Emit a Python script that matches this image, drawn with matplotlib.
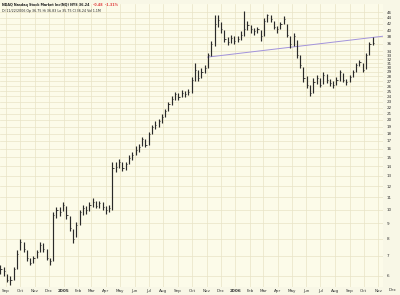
import matplotlib
matplotlib.use("Agg")
import matplotlib.pyplot as plt
import matplotlib.dates as mdates
import matplotlib.ticker as mticker
import numpy as np
import pandas as pd

# ---- data (weekly bars) ----
week_start = "2004-08-20"
closes = [6.3, 6.2, 5.8, 5.8, 6.3, 7.1, 7.8, 7.4, 6.9, 6.6,
          6.9, 7.2, 7.6, 7.4, 6.9, 6.7, 9.6, 10.0, 9.8, 10.4,
          9.6, 8.7, 8.0, 8.9, 9.8, 10.1, 10.0, 10.4, 10.6, 10.3,
          10.5, 10.2, 10.0, 10.1, 13.8, 13.9, 14.5, 13.8, 14.2, 14.9,
          15.3, 15.9, 16.2, 17.2, 16.5, 17.9, 18.9, 19.3, 19.8, 20.4,
          21.4, 22.6, 23.5, 24.4, 23.8, 24.7, 24.4, 24.9, 27.3, 29.5,
          27.7, 29.0, 29.9, 33.0, 35.9, 41.9, 43.3, 40.3, 37.3, 36.4,
          37.8, 36.7, 37.3, 38.7, 40.3, 41.6, 40.3, 39.7, 40.3, 38.4,
          43.0, 44.9, 43.6, 41.0, 40.3, 41.9, 43.6, 38.7, 35.9, 38.4,
          33.0, 30.6, 27.7, 26.3, 24.7, 26.9, 27.7, 26.3, 28.4, 27.3,
          26.7, 26.3, 27.3, 29.0, 27.3, 26.9, 27.9, 29.0, 30.6, 31.3,
          29.5, 33.0, 35.9, 36.2]
highs = [6.5, 6.4, 6.1, 6.0, 6.4, 7.3, 8.0, 7.8, 7.3, 6.9,
         7.0, 7.3, 7.8, 7.7, 7.4, 6.9, 9.8, 10.2, 10.2, 10.6,
         10.3, 9.5, 8.6, 9.1, 10.0, 10.4, 10.3, 10.6, 10.9, 10.7,
         10.7, 10.6, 10.3, 10.4, 14.4, 14.5, 14.8, 14.5, 14.5, 15.2,
         15.6, 16.3, 16.6, 17.5, 17.2, 18.2, 19.3, 19.8, 20.1, 20.9,
         21.8, 23.0, 24.0, 24.8, 24.7, 25.3, 25.0, 25.5, 27.9, 31.1,
         29.5, 29.9, 30.6, 33.6, 36.7, 44.9, 45.0, 42.8, 40.0, 38.0,
         38.7, 38.2, 38.4, 39.7, 46.4, 43.0, 41.6, 40.6, 41.0, 40.0,
         44.0, 45.5, 45.0, 43.0, 41.3, 42.8, 44.5, 42.0, 38.4, 39.3,
         37.0, 33.0, 30.0, 28.0, 26.3, 27.6, 28.4, 27.6, 29.0, 28.6,
         27.5, 27.0, 27.8, 29.5, 28.8, 27.5, 28.4, 29.5, 31.1, 31.8,
         31.0, 33.6, 36.4, 38.0]
lows = [6.1, 6.0, 5.7, 5.6, 5.8, 6.3, 7.3, 7.2, 6.7, 6.5,
        6.6, 6.9, 7.2, 7.2, 6.8, 6.5, 6.7, 9.4, 9.5, 9.9,
        9.3, 8.5, 7.75, 8.1, 8.9, 9.6, 9.7, 9.9, 10.2, 10.1,
        10.1, 10.0, 9.7, 9.8, 10.0, 13.4, 13.8, 13.5, 13.6, 14.2,
        14.7, 15.2, 15.6, 16.3, 16.2, 16.5, 17.9, 18.7, 19.0, 19.6,
        20.4, 21.4, 22.4, 23.3, 23.3, 23.8, 23.8, 24.2, 24.7, 27.0,
        27.0, 27.6, 28.7, 29.8, 32.8, 35.5, 41.0, 39.3, 36.4, 35.6,
        36.2, 35.9, 36.4, 37.0, 38.4, 40.0, 39.3, 38.7, 39.3, 36.7,
        38.4, 42.5, 42.6, 40.3, 39.3, 40.3, 41.9, 38.0, 34.8, 35.5,
        32.3, 29.9, 26.9, 25.7, 24.0, 24.6, 26.5, 25.9, 26.5, 26.7,
        26.0, 25.7, 26.2, 27.0, 26.9, 26.3, 26.9, 27.8, 29.0, 30.3,
        29.0, 29.6, 33.0, 35.6]

trend_dates = ["2005-11-03", "2006-11-11"]
trend_values = [32.5, 38.2]

y_ticks = [6, 7, 8, 9, 10, 11, 12, 13, 14, 15, 16, 17, 18, 19, 20, 21, 22,
           23, 24, 25, 26, 27, 28, 29, 30, 31, 32, 33, 34, 36, 38, 40, 42,
           44, 46]
month_labels = ["Sep", "Oct", "Nov", "Dec", "2005", "Feb", "Mar", "Apr",
                "May", "Jun", "Jul", "Aug", "Sep", "Oct", "Nov", "Dec",
                "2006", "Feb", "Mar", "Apr", "May", "Jun", "Jul", "Aug",
                "Sep", "Oct", "Nov", "Dec"]
title1 = "NDAQ Nasdaq Stock Market Inc(NQ) NYS 36.24"
title1_chg = "-0.48  -1.31%"
title2 = "Dl 11/22/2006 Op 36.75 Hi 36.83 Lo 35.75 Cl 36.24 Vol 1.1M"

# ---- figure ----
W, H = 400, 295
fig = plt.figure(figsize=(4.0, 2.95), dpi=100)
bg = "#fcfbe9"
fig.patch.set_facecolor("#f8f7e6")
left_px, right_px, top_px, bot_px = 0, 383, 4, 287
ax = fig.add_axes([left_px / W, 1 - bot_px / H, (right_px - left_px) / W,
                   (bot_px - top_px) / H])
ax.set_facecolor(bg)

dates = pd.date_range(week_start, periods=len(closes), freq="7D")
dn = mdates.date2num(dates)

ax.set_yscale("log")
ax.set_ylim(5.5, 49.0)
x0 = mdates.date2num(pd.Timestamp("2004-08-19"))
x1 = mdates.date2num(pd.Timestamp("2006-11-11"))
ax.set_xlim(x0, x1)

# grid
month_dates = pd.date_range("2004-09-01", periods=len(month_labels), freq="MS")
mnum = mdates.date2num(month_dates)
for m in mnum:
    if x0 < m < x1:
        ax.axvline(m, color="#e8e4c6", lw=0.5, zorder=0)
for t in y_ticks:
    ax.axhline(t, color="#e8e4c6", lw=0.5, zorder=0)

# bars
ax.vlines(dn, lows, highs, color="#2a2a2a", lw=0.85, zorder=3)
ax.hlines(closes, dn, dn + 2.5, color="#2a2a2a", lw=0.6, zorder=3)

# trend line
tdn = mdates.date2num(pd.to_datetime(trend_dates))
ax.plot(tdn, trend_values, color="#a293dc", lw=0.7, zorder=2)

# axes styling
for s in ax.spines.values():
    s.set_visible(False)
ax.yaxis.tick_right()
ax.yaxis.set_major_locator(mticker.FixedLocator(y_ticks))
ax.yaxis.set_major_formatter(mticker.FixedFormatter([str(t) for t in y_ticks]))
ax.yaxis.set_minor_locator(mticker.NullLocator())
ax.tick_params(axis="y", length=0, pad=2.5, labelsize=3, colors="#333333")

inside = [(m, l) for m, l in zip(mnum, month_labels) if x0 < m < x1]
ax.set_xticks([m for m, l in inside])
ax.set_xticklabels([l for m, l in inside])
ax.tick_params(axis="x", length=0, pad=1.2, labelsize=3, colors="#333333")
for lab in ax.get_xticklabels():
    if lab.get_text().startswith("20"):
        lab.set_fontweight("bold")
# labels beyond the plotted range
trans = matplotlib.transforms.blended_transform_factory(ax.transData, ax.transAxes)
for m, l in zip(mnum, month_labels):
    if m >= x1:
        ax.text(m, -0.0045, l, transform=trans, ha="center", va="top",
                fontsize=3, color="#333333", clip_on=False)

# titles
fig.text(1.5 / W, 1 - 5 / H, title1, fontsize=2.4, fontweight="bold",
         color="#222222", va="center", ha="left")
fig.text(93 / W, 1 - 5 / H, title1_chg, fontsize=2.4, fontweight="bold",
         color="#e04040", va="center", ha="left")
fig.text(1.5 / W, 1 - 11 / H, title2, fontsize=2.3, color="#222222",
         va="center", ha="left")

fig.savefig("out.png", dpi=100, facecolor=fig.get_facecolor())
